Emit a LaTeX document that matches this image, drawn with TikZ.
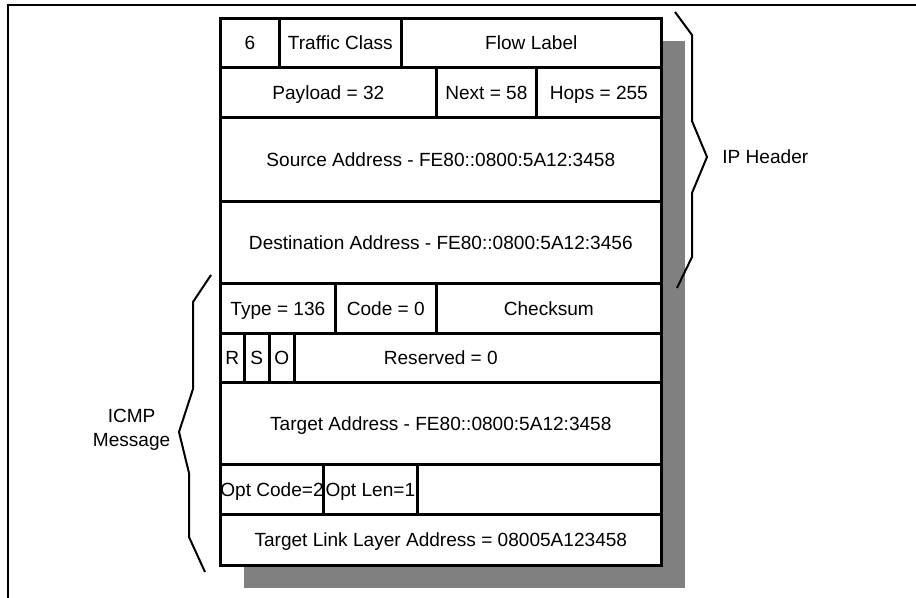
\documentclass[tikz,border=0pt]{standalone}
\usepackage{fontspec}
\setmainfont{Liberation Sans}
\usetikzlibrary{positioning}

\begin{document}
\begin{tikzpicture}[
    x=0.75pt, y=-0.75pt,
    cell/.style={draw, fill=white, line width=2pt, inner sep=0pt, anchor=north west,
        text height=10.2pt, text depth=0pt, font=\fontsize{14.3}{18}\selectfont},
    size/.style 2 args={minimum width=#1*0.75pt, minimum height=#2*0.75pt},
    shade/.style={fill=black!50},
    brace/.style={line width=1.5pt, line join=miter},
    lbl/.style={align=center, font=\fontsize{14.3}{18}\selectfont}
]
\useasboundingbox (0,0) rectangle (916,598);
\draw[line width=1.5pt] (8,598) -- (8,5) -- (916,5);

% shadow behind the packet
\fill[shade] (244,41) rectangle (685,588);

% IPv6 header
\node[cell, size={59}{49}] (ver) at (219,17) {6};
\node[cell, size={122}{49}] (tclass) at (278,17) {Traffic Class};
\node[cell, size={260}{49}] (flow) at (400,17) {Flow Label};
\node[cell, size={216}{50}] (payload) at (219,66) {Payload = 32};
\node[cell, size={100}{50}] (next) at (435,66) {Next = 58};
\node[cell, size={125}{50}] (hops) at (535,66) {Hops = 255};
\node[cell, size={441}{84}] (src) at (219,116) {Source Address - FE80::0800:5A12:3458};
\node[cell, size={441}{82}] (dst) at (219,200) {Destination Address - FE80::0800:5A12:3456};

% ICMP message
\node[cell, size={115}{50}] (type) at (219,282) {Type = 136};
\node[cell, size={101}{50}] (code) at (334,282) {Code = 0};
\node[cell, size={225}{50}] (csum) at (435,282) {Checksum};
\node[cell, size={441}{49}] (rsvd) at (219,332) {Reserved = 0};
\node[cell, size={24}{49}] (rflag) at (219,332) {R};
\node[cell, size={25}{49}] (sflag) at (243,332) {S};
\node[cell, size={25}{49}] (oflag) at (268,332) {O};
\node[cell, size={441}{82}] (target) at (219,381) {Target Address - FE80::0800:5A12:3458};
\node[cell, size={103}{50}] (optcode) at (219,463) {Opt Code=2};
\node[cell, size={94}{50}] (optlen) at (322,463) {Opt Len=1};
\node[cell, size={244}{50}] (optpad) at (416,463) {};
\node[cell, size={441}{51}] (tlla) at (219,513) {Target Link Layer Address = 08005A123458};

% braces
\coordinate (iptip) at (707,157);
\coordinate (icmptip) at (179,432);
\draw[brace] (675,12) -- (692,35) -- (692,121) -- (iptip) -- (692,193) -- (692,257) -- (677,288);
\draw[brace] (211,275) -- (193,302) -- (193,389) -- (icmptip) -- (189,473) -- (189,537) -- (205,572);
\node[lbl, right=8pt of iptip] (iplbl) {IP Header};
\node[lbl, left=3pt of icmptip, yshift=2pt] (icmplbl) {ICMP\\Message};
\end{tikzpicture}
\end{document}
